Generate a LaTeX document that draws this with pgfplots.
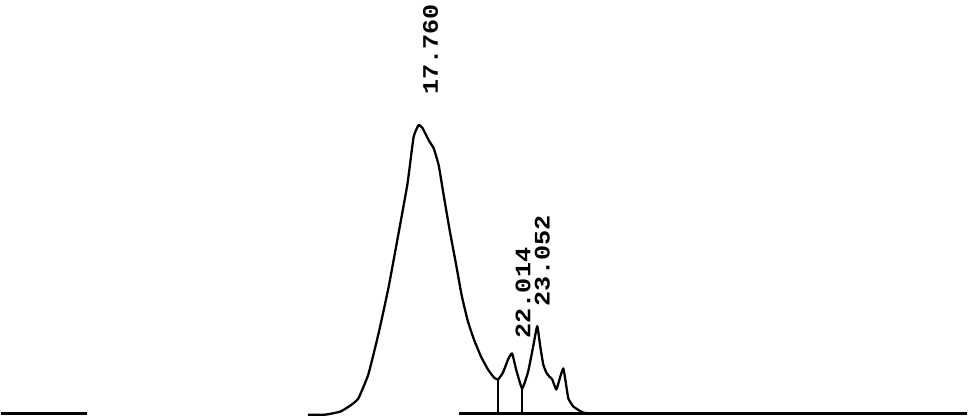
\documentclass[border=0pt]{standalone}
\usepackage{pgfplots}
\pgfplotsset{compat=1.18}
\usepackage{fontspec}
\newfontfamily\monof{Liberation Mono}
\newcommand{\lbl}[1]{\scalebox{1.25}[1.1]{\fontsize{15}{15}\selectfont\monof\bfseries #1}}
\begin{document}
\begin{tikzpicture}
\begin{axis}[
  width=726pt, height=312pt, scale only axis,
  xmin=0, xmax=968, ymin=0, ymax=416,
  hide axis, clip=false]
% chromatogram trace (x in px, y = 416 - px)
\addplot[black, line width=1.7pt, line join=round, smooth, tension=0.25] coordinates {
(313,3)(330,3)(345,6)(355,12)(363,19)(373,43)(383,83)(393,129)(403,183)(412,233)
(418,279)(423,291)(427,288)(433,276)(438,268)(443,251)(448,221)(454,186)
(460,154)(466,121)(472,96)(478,78)(485,61)(492,48)(498,40)(502,38)(507,45)(512,58)(516,64)
(520,48)(526,29)(532,46)(537,71)(541,91)(544,71)(547,53)(550,45)(553,41)(556,38)
(560,28)(564,41)(567,49)(570,31)(572,19)(577,11)(587,5)(600,4)};
% baseline segments
\addplot[black, line width=2pt] coordinates {(8,4)(93,4)};
\addplot[black, line width=2.2pt] coordinates {(463,4)(968,4)};
% drop lines
\addplot[black, line width=1.3pt] coordinates {(502,38)(502,4)};
\addplot[black, line width=1.3pt] coordinates {(526,29)(526,4)};
% retention time labels
\node[rotate=90] at (axis cs:435,366) {\lbl{17.760}};
\node[rotate=90] at (axis cs:527,124) {\lbl{22.014}};
\node[rotate=90] at (axis cs:546,156) {\lbl{23.052}};
\end{axis}
\end{tikzpicture}
\end{document}
